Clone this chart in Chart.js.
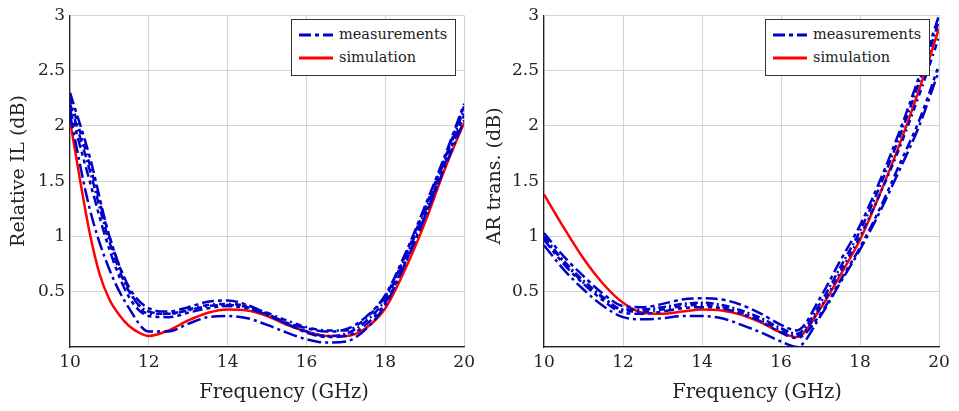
<!DOCTYPE html>
<html>
<head>
<meta charset="utf-8">
<script src="https://cdn.jsdelivr.net/npm/chart.js@4"></script>
<style>
  body { margin: 0; background: #fff; width: 959px; height: 411px; position: relative; overflow: hidden; }
  .wrap { position: absolute; top: 0; height: 411px; }
  .legend { position: absolute; background: #fff; border: 1px solid #333; font-family: "DejaVu Serif", serif; font-size: 14.5px; color: #222; padding: 3px 4px 3px 7px; line-height: 23px; box-sizing: border-box; height: 57px; }
  .legend div { white-space: nowrap; }
  .legend svg { vertical-align: middle; margin-right: 6px; }
  .xtitle { position: absolute; top: 380px; width: 240px; text-align: center; font-family: "DejaVu Serif", serif; font-size: 19.5px; color: #222; }
  .ytitle { position: absolute; width: 240px; text-align: center; font-family: "DejaVu Serif", serif; font-size: 19px; color: #222; transform: rotate(-90deg); line-height: 22px; }
</style>
</head>
<body>
<div class="wrap" style="left:0;width:480px"><canvas id="leftChart"></canvas></div>
<div class="wrap" style="left:480px;width:479px"><canvas id="rightChart"></canvas></div>
<div class="xtitle" style="left:164px">Frequency (GHz)</div>
<div class="xtitle" style="left:637px">Frequency (GHz)</div>
<div class="ytitle" style="left:-103px;top:160px">Relative IL (dB)</div>
<div class="ytitle" style="left:373px;top:165px">AR trans. (dB)</div>
<div class="legend" style="left:291px;top:19px;width:165px">
  <div><svg width="34" height="6"><line x1="0" y1="3" x2="34" y2="3" stroke="#0000c8" stroke-width="3" stroke-dasharray="12 4 4 4"/></svg>measurements</div>
  <div><svg width="34" height="6"><line x1="0" y1="3" x2="34" y2="3" stroke="#ff0000" stroke-width="3"/></svg>simulation</div>
</div>
<div class="legend" style="left:765px;top:19px;width:165px">
  <div><svg width="34" height="6"><line x1="0" y1="3" x2="34" y2="3" stroke="#0000c8" stroke-width="3" stroke-dasharray="12 4 4 4"/></svg>measurements</div>
  <div><svg width="34" height="6"><line x1="0" y1="3" x2="34" y2="3" stroke="#ff0000" stroke-width="3"/></svg>simulation</div>
</div>
<script>
// Relative IL panel
const freqL = [10, 10.5, 11, 11.5, 12, 12.5, 13, 13.5, 14, 14.5, 15, 15.5, 16, 16.5, 17, 17.5, 18, 18.5, 19, 19.5, 20];
const freqSimL = [10, 10.25, 10.5, 10.75, 11, 11.25, 11.5, 11.75, 12, 12.5, 13, 13.5, 14, 14.5, 15, 15.5, 16, 16.5, 17, 17.5, 18, 18.5, 19, 19.5, 20];
const simL  = [2.05, 1.52, 1.03, 0.66, 0.43, 0.29, 0.19, 0.13, 0.1, 0.15, 0.24, 0.31, 0.34, 0.33, 0.28, 0.2, 0.14, 0.1, 0.1, 0.17, 0.35, 0.7, 1.12, 1.6, 2.03];
const measL1 = [2.3, 1.72, 1.0, 0.54, 0.35, 0.32, 0.36, 0.41, 0.42, 0.38, 0.3, 0.22, 0.17, 0.14, 0.16, 0.27, 0.47, 0.84, 1.27, 1.72, 2.2];
const measL2 = [2.2, 1.6, 0.95, 0.5, 0.32, 0.3, 0.33, 0.37, 0.38, 0.36, 0.29, 0.21, 0.14, 0.1, 0.12, 0.23, 0.43, 0.8, 1.22, 1.68, 2.15];
const measL3 = [2.15, 1.5, 0.88, 0.45, 0.28, 0.27, 0.31, 0.35, 0.37, 0.35, 0.29, 0.21, 0.13, 0.09, 0.1, 0.2, 0.4, 0.76, 1.18, 1.65, 2.1];
const measL4 = [2.1, 1.25, 0.7, 0.35, 0.14, 0.14, 0.21, 0.27, 0.28, 0.26, 0.2, 0.13, 0.07, 0.04, 0.05, 0.16, 0.38, 0.75, 1.17, 1.62, 2.05];
const measL5 = [2.25, 1.65, 1.0, 0.52, 0.3, 0.3, 0.34, 0.38, 0.39, 0.37, 0.31, 0.24, 0.18, 0.15, 0.15, 0.26, 0.46, 0.82, 1.25, 1.7, 2.18];

// AR trans. panel
const freqR = [10, 10.5, 11, 11.5, 12, 12.5, 13, 13.5, 14, 14.5, 15, 15.5, 16, 16.4, 17, 17.5, 18, 18.5, 19, 19.5, 20];
const simR  = [1.38, 1.08, 0.8, 0.57, 0.4, 0.31, 0.3, 0.32, 0.34, 0.33, 0.29, 0.22, 0.13, 0.09, 0.35, 0.65, 0.97, 1.38, 1.83, 2.33, 2.88];
const measR1 = [1.03, 0.82, 0.64, 0.48, 0.37, 0.36, 0.39, 0.43, 0.44, 0.43, 0.38, 0.3, 0.2, 0.15, 0.45, 0.78, 1.1, 1.5, 1.95, 2.45, 3.0];
const measR2 = [1.0, 0.78, 0.6, 0.45, 0.34, 0.34, 0.36, 0.39, 0.4, 0.38, 0.33, 0.26, 0.17, 0.12, 0.4, 0.72, 1.05, 1.45, 1.9, 2.4, 2.95];
const measR3 = [0.97, 0.75, 0.57, 0.42, 0.31, 0.3, 0.32, 0.35, 0.36, 0.35, 0.3, 0.23, 0.13, 0.08, 0.3, 0.6, 0.9, 1.25, 1.65, 2.05, 2.55];
const measR4 = [0.92, 0.7, 0.52, 0.37, 0.27, 0.25, 0.26, 0.28, 0.28, 0.26, 0.2, 0.13, 0.05, 0.0, 0.28, 0.58, 0.88, 1.22, 1.6, 2.0, 2.5];
const measR5 = [0.98, 0.77, 0.58, 0.44, 0.33, 0.32, 0.34, 0.37, 0.38, 0.36, 0.31, 0.24, 0.15, 0.1, 0.36, 0.68, 1.0, 1.38, 1.8, 2.28, 2.8];

const xTicks = [10, 12, 14, 16, 18, 20];
const dashes = [[12, 4, 4, 4], [8, 3, 2, 3], [10, 4, 4, 4, 4, 4], [14, 4, 3, 4], [6, 4, 2, 4]];

const blue = '#0000c8';
const red = '#ff0000';
const font = "'DejaVu Serif', serif";

function pts(xs, ys) {
    return xs.map((x, i) => ({ x: x, y: ys[i] }));
}

function makeChart(id, freq, freqSim, sim, meas, yWidth, padRight) {
    const datasets = meas.map((m, i) => ({
        data: pts(freq, m),
        borderColor: blue,
        borderWidth: 2.5,
        borderDash: dashes[i],
        pointRadius: 0,
        cubicInterpolationMode: 'monotone'
    }));
    datasets.push({
        data: pts(freqSim, sim),
        borderColor: red,
        borderWidth: 2.5,
        pointRadius: 0,
        cubicInterpolationMode: 'monotone'
    });
    return new Chart(document.getElementById(id), {
        type: 'line',
        data: { datasets: datasets },
        options: {
            responsive: false,
            animation: false,
            layout: { padding: { top: 12, right: padRight, left: 0, bottom: 0 } },
            plugins: { legend: { display: false }, tooltip: { enabled: false } },
            scales: {
                x: {
                    type: 'linear', min: 10, max: 20,
                    afterBuildTicks: s => { s.ticks = xTicks.map(v => ({ value: v })); },
                    afterFit: s => { s.height = 64; },
                    grid: { color: '#d4d4d4', drawTicks: false },
                    border: { color: '#222', width: 1.2 },
                    ticks: { color: '#222', font: { family: font, size: 17 }, padding: 5 }
                },
                y: {
                    min: 0, max: 3,
                    afterFit: s => { s.width = yWidth; },
                    grid: { color: '#d4d4d4', drawTicks: false },
                    border: { color: '#222', width: 1.2 },
                    ticks: {
                        stepSize: 0.5, color: '#222', font: { family: font, size: 17 }, padding: 5,
                        callback: v => v === 0 ? '' : v
                    }
                }
            }
        }
    });
}

const lc = document.getElementById('leftChart');
lc.width = 480; lc.height = 411;
const rc = document.getElementById('rightChart');
rc.width = 479; rc.height = 411;

makeChart('leftChart', freqL, freqSimL, simL, [measL1, measL2, measL3, measL4, measL5], 70, 15);
makeChart('rightChart', freqR, freqR, simR, [measR1, measR2, measR3, measR4, measR5], 64, 20);
</script>
</body>
</html>
